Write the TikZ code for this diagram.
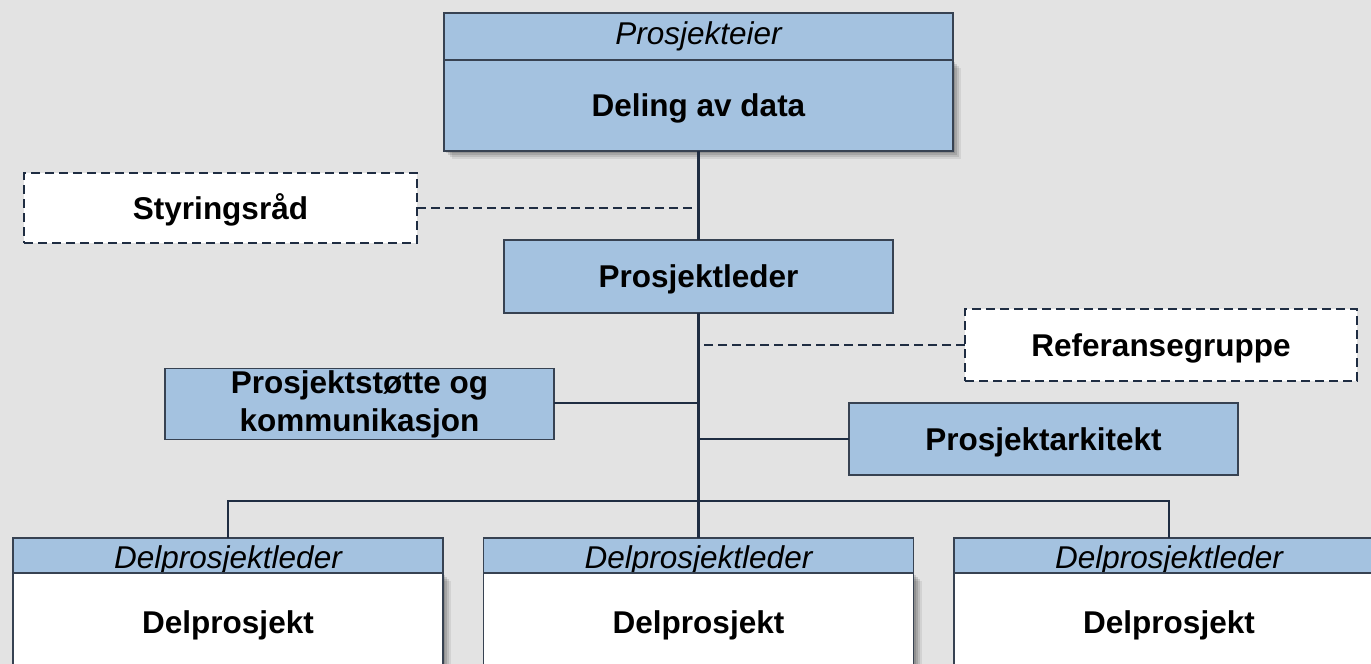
\documentclass[tikz,border=0pt]{standalone}
\usepackage{fontspec}
\setmainfont{Liberation Sans}
\usetikzlibrary{shadows}
\definecolor{bg}{RGB}{227,227,227}
\definecolor{boxblue}{RGB}{164,194,224}
\definecolor{navy}{RGB}{31,45,66}
\definecolor{edge}{RGB}{55,66,82}
\begin{document}
\begin{tikzpicture}[x=1pt,y=-1pt,
  every node/.style={inner sep=0pt, outer sep=0pt},
  bluebox/.style={rectangle, draw=edge, line width=1.2pt, fill=boxblue},
  whitebox/.style={rectangle, draw=edge, line width=1.2pt, fill=white},
  dashbox/.style={rectangle, draw=navy, line width=2.8pt, dash pattern=on 9pt off 5pt, fill=white},
  conn/.style={draw=navy, line width=2.5pt},
  dconn/.style={draw=navy, line width=2.8pt, dash pattern=on 9pt off 5pt},
  hdr/.style={font=\fontsize{31.5}{36}\selectfont\itshape},
  ttl/.style={font=\fontsize{31.5}{38}\selectfont\bfseries},
  capfix/.style={text height=22.5pt, text depth=0pt},
  shad/.style={
    general shadow={shadow xshift=2pt, shadow yshift=-2pt, opacity=0.12, fill=black},
    general shadow={shadow xshift=4pt, shadow yshift=-4pt, opacity=0.12, fill=black},
    general shadow={shadow xshift=6pt, shadow yshift=-6pt, opacity=0.10, fill=black},
    general shadow={shadow xshift=8pt, shadow yshift=-8pt, opacity=0.07, fill=black}}
]
\useasboundingbox (0,0) rectangle (1371,664);
\fill[bg] (0,0) rectangle (1371,664);
\clip (0,0) rectangle (1371,664);

% top box
\node[bluebox, hdr, text height=22.5pt, text depth=7pt, minimum width=509pt, minimum height=47pt] (eier) at (698.5,36.5) {Prosjekteier};
\node[bluebox, shad, ttl, capfix, minimum width=509pt, minimum height=91pt] (deling) at (698.5,105.5) {Deling av data};

% middle
\node[bluebox, ttl, capfix, minimum width=389pt, minimum height=73pt] (pl) at (698.5,276.5) {Prosjektleder};
\node[dashbox, ttl, capfix, minimum width=393pt, minimum height=70pt] (sty) at (220.5,208) {Styringsråd};
\node[dashbox, ttl, capfix, minimum width=392pt, minimum height=72pt] (ref) at (1161,345) {Referansegruppe};
\node[bluebox, ttl, align=center, minimum width=389pt, minimum height=71pt] (ps) at (359.5,404) {Prosjektstøtte og\\kommunikasjon};
\node[bluebox, ttl, capfix, minimum width=389pt, minimum height=72pt] (pa) at (1043.5,439) {Prosjektarkitekt};

% bottom boxes
\node[bluebox, hdr, text height=25.5pt, text depth=0pt, minimum width=430pt, minimum height=35pt] (h1) at (228,555.5) {Delprosjektleder};
\node[whitebox, shad, ttl, capfix, minimum width=430pt, minimum height=99pt] (b1) at (228,622.5) {Delprosjekt};
\node[bluebox, hdr, text height=25.5pt, text depth=0pt, minimum width=430pt, minimum height=35pt] (h2) at (698.5,555.5) {Delprosjektleder};
\node[whitebox, shad, ttl, capfix, minimum width=430pt, minimum height=99pt] (b2) at (698.5,622.5) {Delprosjekt};
\node[bluebox, hdr, text height=25.5pt, text depth=0pt, minimum width=430pt, minimum height=35pt] (h3) at (1169,555.5) {Delprosjektleder};
\node[whitebox, shad, ttl, capfix, minimum width=430pt, minimum height=99pt] (b3) at (1169,622.5) {Delprosjekt};

% connectors
\coordinate (bus) at (698.5,501);
\draw[conn] (deling.south) -- (pl.north);
\draw[conn] (pl.south) -- (bus);
\draw[conn] (h1.north) -- (h1.north |- bus) -- (h3.north |- bus) -- (h3.north);
\draw[conn] (bus) -- (h2.north);
\draw[dconn] (sty.east) -- (sty.east -| pl.north);
\draw[dconn] (ref.west) -- (ref.west -| pl.south);
\draw[conn] (ps.east |- 0,403) -- (pl.south |- 0,403);
\draw[conn] (pa.west) -- (pa.west -| pl.south);
\end{tikzpicture}
\end{document}
